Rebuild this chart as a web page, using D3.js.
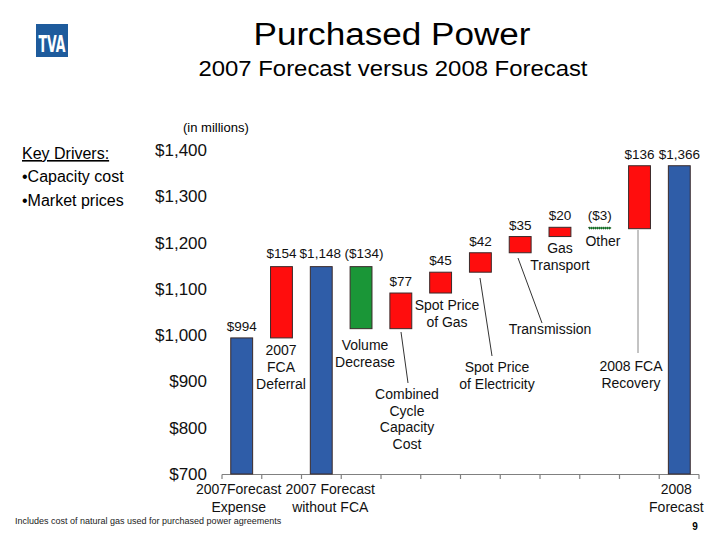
<!DOCTYPE html>
<html><head><meta charset="utf-8">
<script src="https://cdn.jsdelivr.net/npm/d3@7"></script>
<style>body{margin:0;background:#fff}svg{display:block;font-family:Arial,"Liberation Sans",sans-serif}</style>
</head><body><svg id="c" width="720" height="540"></svg>
<script>
const categories = ["2007 Forecast Expense","2007 FCA Deferral","2007 Forecast without FCA","Volume Decrease","Combined Cycle Capacity Cost","Spot Price of Gas","Spot Price of Electricity","Transmission","Gas Transport","Other","2008 FCA Recovery","2008 Forecast"];
const values = [994,154,1148,-134,77,45,42,35,20,-3,136,1366];
const kinds = ["total","delta","total","delta","delta","delta","delta","delta","delta","delta","delta","total"];
const valueLabels = ["$994","$154","$1,148","($134)","$77","$45","$42","$35","$20","($3)","$136","$1,366"];
const yTicks = [700,800,900,1000,1100,1200,1300,1400];
const yTickLabels = ["$700","$800","$900","$1,000","$1,100","$1,200","$1,300","$1,400"];
const xAxisLabels = [["2007Forecast","Expense"],null,["2007 Forecast","without FCA"],null,null,null,null,null,null,null,null,["2008","Forecast"]];
const annotationLines = [null,["2007","FCA","Deferral"],null,["Volume","Decrease"],["Combined","Cycle","Capacity","Cost"],["Spot Price","of Gas"],["Spot Price","of Electricity"],["Transmission"],["Gas","Transport"],["Other"],["2008 FCA","Recovery"],null];
const drivers = ["•Capacity cost","•Market prices"];

// waterfall
let run = 0;
const bars = values.map((v,i)=>{
  let lo, hi;
  if (kinds[i]==="total"){ lo = 700; hi = v; run = v; }
  else { const s = run; run = run + v; lo = Math.min(s,run); hi = Math.max(s,run); }
  return {i, v, lo, hi, kind:kinds[i]};
});

const svg = d3.select("#c");
const x = d3.scaleBand().domain(d3.range(categories.length)).range([222,699]).paddingInner(0.45).paddingOuter(0.22);
const y = d3.scaleLinear().domain([700,1400]).range([474,150]);

const colorOf = d=> d.kind==="total" ? "#2F5DA8" : (d.v<0 ? "#1A9637" : "#FF0D0D");

// title
svg.append("text").attr("x",392).attr("y",45).attr("text-anchor","middle").attr("font-size",31)
  .attr("textLength",277).attr("lengthAdjust","spacingAndGlyphs").text("Purchased Power");
svg.append("text").attr("x",393).attr("y",76).attr("text-anchor","middle").attr("font-size",22)
  .attr("textLength",389).attr("lengthAdjust","spacingAndGlyphs").text("2007 Forecast versus 2008 Forecast");

// logo
const lg = svg.append("g");
lg.append("rect").attr("x",36).attr("y",24).attr("width",32).attr("height",33).attr("fill","#1E5B9C");
lg.append("text").attr("x",52).attr("y",52).attr("text-anchor","middle").attr("font-size",23).attr("font-weight","bold")
  .attr("fill","#fff").attr("font-family","'Liberation Sans Narrow','DejaVu Sans Condensed',Arial").attr("textLength",27).attr("lengthAdjust","spacingAndGlyphs").text("TVA");

// key drivers
svg.append("text").attr("x",22).attr("y",159).attr("font-size",16).attr("text-decoration","underline").text("Key Drivers:");
drivers.forEach((t,k)=>svg.append("text").attr("x",22).attr("y",182+k*24).attr("font-size",16).text(t));

svg.append("text").attr("x",183).attr("y",132).attr("font-size",13).text("(in millions)");

// y tick labels
svg.append("g").selectAll("text").data(yTicks).join("text")
  .attr("x",207).attr("y",d=>y(d)+6).attr("text-anchor","end").attr("font-size",17).attr("fill","#111")
  .text((d,k)=>yTickLabels[k]);

// x axis
const x0 = 222;
const ax = svg.append("g").attr("stroke","#808080").attr("stroke-width",1.2);
ax.append("line").attr("x1",x0).attr("x2",699).attr("y1",474.5).attr("y2",474.5);
const bounds = d3.range(categories.length+1).map(k=> x0 + k*(699-x0)/categories.length);
ax.selectAll("line.t").data(bounds).join("line").attr("class","t")
  .attr("x1",d=>d).attr("x2",d=>d).attr("y1",474.5).attr("y2",479);

// bars
svg.append("g").selectAll("rect").data(bars).join("rect")
  .attr("x",d=>x(d.i)).attr("width",x.bandwidth())
  .attr("y",d=>y(d.hi)).attr("height",d=>Math.max(1.5,y(d.lo)-y(d.hi)))
  .attr("fill",colorOf).attr("stroke",d=>d.v<0&&Math.abs(d.v)<10?"#0a3a10":"#3a2a2a").attr("stroke-width",1)
  .attr("stroke-dasharray",d=>d.v<0&&Math.abs(d.v)<10?"1,1":null);

// value labels
const labelShift = {2:-1, 3:3};
svg.append("g").selectAll("text").data(bars).join("text")
  .attr("x",d=>x(d.i)+x.bandwidth()/2 + (labelShift[d.i]||0)).attr("y",d=>y(d.hi)-(d.i<=3 && d.i>=1 ? 9 : 7))
  .attr("text-anchor","middle").attr("font-size",13.5).attr("fill","#111")
  .text(d=>valueLabels[d.i]);

// x axis category labels
xAxisLabels.forEach((ls,i)=>{
  if(!ls) return;
  const cx = x(i)+x.bandwidth()/2 + (i===0?-3:(i===2?9:-3));
  ls.forEach((t,k)=>svg.append("text").attr("x",cx).attr("y",494+k*18).attr("text-anchor","middle").attr("font-size",14).attr("fill","#111").text(t));
});

// annotations (label placement & leader lines)
const annLayout = {
  1:{cx:281,y0:355,lh:17},
  3:{cx:365,y0:350,lh:17},
  4:{cx:407,y0:399,lh:16.5,leader:[401,332,408,383]},
  5:{cx:447,y0:310,lh:17},
  6:{cx:497,y0:372,lh:16.5,leader:[480,278,492,356]},
  7:{cx:550,y0:334,lh:17,leader:[518,258,542,323]},
  8:{cx:560,y0:253,lh:17},
  9:{cx:603,y0:246,lh:17},
  10:{cx:631,y0:371,lh:16.5,leader:[638,230,638,353]}
};
annotationLines.forEach((ls,i)=>{
  if(!ls) return;
  const L = annLayout[i];
  ls.forEach((t,k)=>svg.append("text").attr("x",L.cx).attr("y",L.y0+k*L.lh).attr("text-anchor","middle").attr("font-size",14).attr("fill","#111").text(t));
  if(L.leader){
    const [a,b,c,d] = L.leader;
    svg.append("line").attr("x1",a).attr("y1",b).attr("x2",c).attr("y2",d).attr("stroke",i===10?"#888":"#333").attr("stroke-width",1);
  }
});

// footnote & page
svg.append("text").attr("x",15).attr("y",524).attr("font-size",9).attr("fill","#222").text("Includes cost of natural gas used for purchased power agreements");
svg.append("text").attr("x",695).attr("y",530).attr("font-size",10).attr("font-weight","bold").attr("text-anchor","middle").text("9");
</script></body></html>
